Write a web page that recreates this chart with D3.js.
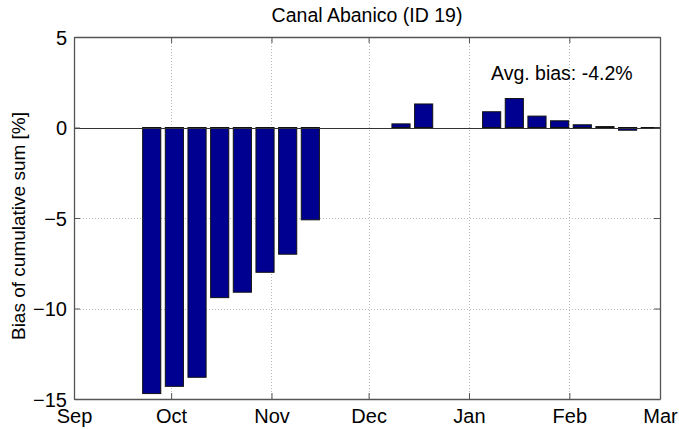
<!DOCTYPE html>
<html>
<head>
<meta charset="utf-8">
<script src="https://cdn.jsdelivr.net/npm/d3@7"></script>
<style>
  html, body { margin: 0; padding: 0; background: #fff; }
  svg { display: block; }
  text { font-family: "Liberation Sans", Arial, Helvetica, sans-serif; fill: #000; }
</style>
</head>
<body>
<svg id="chart" width="679" height="429"></svg>
<script>
// Weekly bias of the cumulative sum, Canal Abanico (ID 19)
const title = "Canal Abanico (ID 19)";
const yLabel = "Bias of cumulative sum [%]";

const weekDates = [
  "2013-09-25", "2013-10-02", "2013-10-09", "2013-10-16", "2013-10-23",
  "2013-10-30", "2013-11-06", "2013-11-13", "2013-11-20", "2013-11-27",
  "2013-12-04", "2013-12-11", "2013-12-18", "2013-12-25", "2014-01-01",
  "2014-01-08", "2014-01-15", "2014-01-22", "2014-01-29", "2014-02-05",
  "2014-02-12", "2014-02-19", "2014-02-26"
];
const biasValues = [
  -14.7, -14.3, -13.8, -9.4, -9.1,
  -8.0, -7.0, -5.1, 0, 0,
  0, 0.2, 1.3, 0, 0,
  0.87, 1.6, 0.63, 0.37, 0.15,
  0.05, -0.15, -0.05
];

const monthStarts = ["2013-09-01", "2013-10-01", "2013-11-01", "2013-12-01",
                     "2014-01-01", "2014-02-01", "2014-03-01"];
const monthLabels = ["Sep", "Oct", "Nov", "Dec", "Jan", "Feb", "Mar"];
const yTicks = [-15, -10, -5, 0, 5];

const parse = d3.utcParse("%Y-%m-%d");
const data = weekDates.map((d, i) => ({ date: parse(d), value: biasValues[i] }));
const monthDates = monthStarts.map(parse);

const svg = d3.select("#chart");
const margin = { top: 37, right: 19, bottom: 30, left: 74 };
const W = 679, H = 429;
const x0 = margin.left, x1 = W - margin.right;
const y0 = margin.top, y1 = H - margin.bottom;

const x = d3.scaleUtc().domain([monthDates[0], monthDates[monthDates.length - 1]]).range([x0, x1]);
const y = d3.scaleLinear().domain([-15, 5]).range([y1, y0]);

const axisColor = "#555";
const tickLen = 6;
const tickFont = "20px";
const labelFont = "19.5px";

// background of the axes
svg.append("rect").attr("x", x0).attr("y", y0).attr("width", x1 - x0).attr("height", y1 - y0)
  .attr("fill", "#fff");

// dotted grid
const grid = svg.append("g").attr("stroke", "#b8b8b8").attr("stroke-width", 1)
  .attr("stroke-dasharray", "1,2");
grid.selectAll("line.v").data(monthDates.slice(1, -1)).join("line")
  .attr("x1", d => Math.round(x(d)) + 0.5).attr("x2", d => Math.round(x(d)) + 0.5)
  .attr("y1", y0).attr("y2", y1);
grid.selectAll("line.h").data(yTicks.slice(1, -1)).join("line")
  .attr("y1", d => Math.round(y(d)) + 0.5).attr("y2", d => Math.round(y(d)) + 0.5)
  .attr("x1", x0).attr("x2", x1);

// bars: 0.8 of the weekly spacing
const dayMs = 864e5;
const barW = x(new Date(monthDates[0].getTime() + 5.6 * dayMs)) - x(monthDates[0]);
svg.append("defs").append("clipPath").attr("id", "plotClip")
  .append("rect").attr("x", x0).attr("y", y0).attr("width", x1 - x0).attr("height", y1 - y0);

svg.append("g").attr("clip-path", "url(#plotClip)")
  .selectAll("rect").data(data.filter(d => d.value !== 0)).join("rect")
  .attr("x", d => x(d.date) - barW / 2)
  .attr("width", barW)
  .attr("y", d => y(Math.max(0, d.value)))
  .attr("height", d => Math.abs(y(d.value) - y(0)))
  .attr("fill", "#000090")
  .attr("stroke", "#111")
  .attr("stroke-width", 1);

// zero baseline
svg.append("line")
  .attr("x1", x0).attr("x2", x1)
  .attr("y1", Math.round(y(0)) + 0.5).attr("y2", Math.round(y(0)) + 0.5)
  .attr("stroke", "#333").attr("stroke-width", 1);

// axes with inward ticks on all four sides
const bottomAxis = d3.axisBottom(x).tickValues(monthDates)
  .tickFormat((d, i) => monthLabels[i]).tickSizeInner(-tickLen).tickSizeOuter(0).tickPadding(10);
const gB = svg.append("g").attr("transform", `translate(0,${y1})`).call(bottomAxis);

const topAxis = d3.axisTop(x).tickValues(monthDates).tickFormat("")
  .tickSizeInner(-tickLen).tickSizeOuter(0);
const gT = svg.append("g").attr("transform", `translate(0,${y0})`).call(topAxis);

const leftAxis = d3.axisLeft(y).tickValues(yTicks).tickFormat(d3.format("d"))
  .tickSizeInner(-tickLen).tickSizeOuter(0).tickPadding(7);
const gL = svg.append("g").attr("transform", `translate(${x0},0)`).call(leftAxis);

const rightAxis = d3.axisRight(y).tickValues(yTicks).tickFormat("")
  .tickSizeInner(-tickLen).tickSizeOuter(0);
const gR = svg.append("g").attr("transform", `translate(${x1},0)`).call(rightAxis);

[gB, gT, gL, gR].forEach(g => {
  g.select(".domain").attr("stroke", axisColor).attr("stroke-width", 1.3);
  g.selectAll(".tick line").attr("stroke", axisColor).attr("stroke-width", 1);
  g.selectAll("text").style("font-size", tickFont).attr("fill", "#000")
    .style("font-family", '"Liberation Sans", Arial, sans-serif');
});
gL.selectAll("text").attr("dy", "0.35em");

// title
svg.append("text").attr("x", (x0 + x1) / 2).attr("y", 22)
  .attr("text-anchor", "middle").style("font-size", labelFont).text(title);

// y axis label
svg.append("text")
  .attr("transform", `translate(25,${(y0 + y1) / 2 + 8}) rotate(-90)`)
  .attr("text-anchor", "middle").style("font-size", "19px").text(yLabel);

// average bias over the weeks with a non-zero value
const nonZero = biasValues.filter(v => v !== 0);
const avgBias = d3.mean(nonZero);
svg.append("text").attr("x", 491).attr("y", 80)
  .style("font-size", labelFont).text(`Avg. bias: ${avgBias.toFixed(1)}%`);
</script>
</body>
</html>
